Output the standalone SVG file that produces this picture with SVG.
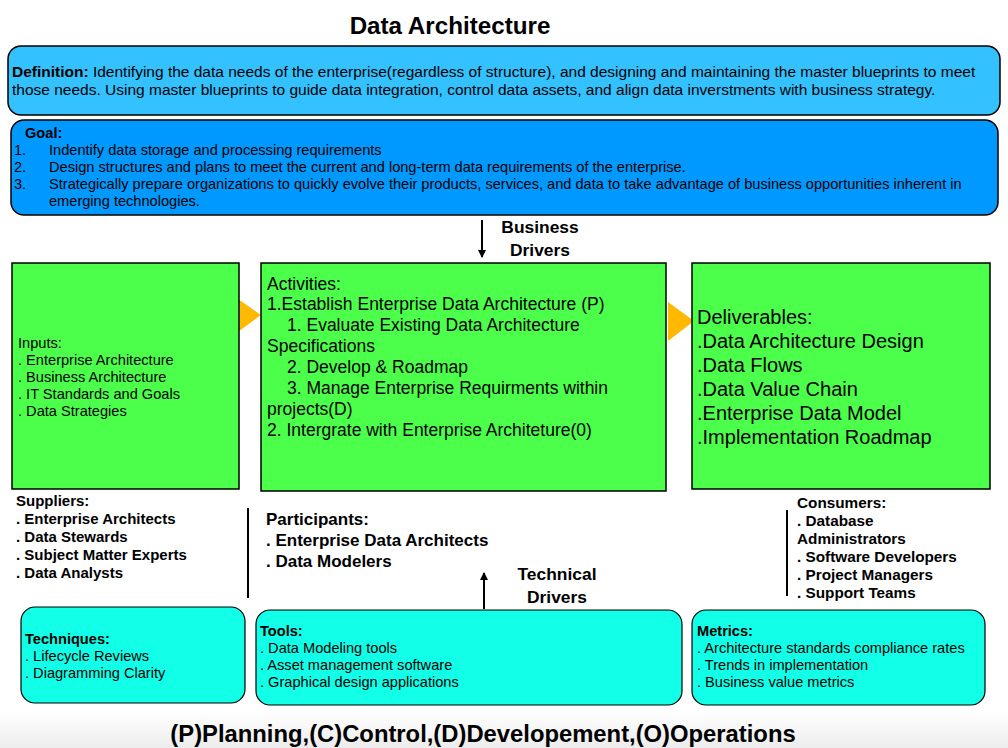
<svg xmlns="http://www.w3.org/2000/svg" width="1008" height="748" viewBox="0 0 1008 748">
  <style>
    text { font-family: "Liberation Sans", Arial, Helvetica, sans-serif; fill: #000; }
    .b { font-weight: bold; }
    .def { fill: #33c1ff; stroke: #000; stroke-width: 1.5; }
    .goal { fill: #0099ff; stroke: #000; stroke-width: 1.5; }
    .green { fill: #4bff4b; stroke: #000; stroke-width: 1.5; }
    .cyan { fill: #12ffe8; stroke: #000; stroke-width: 1.2; }
    .flow { fill: #ffb900; }
    .conn { stroke: #000; stroke-width: 2; fill: none; }
    .small { font-size: 14.6px; }
    .side { font-size: 15px; }
    .act { font-size: 17.5px; }
    .deliv { font-size: 20px; }
    .drv { font-size: 17.4px; }
  </style>
  <defs>
    <marker id="ah" markerWidth="8" markerHeight="8" refX="7" refY="4" orient="auto" markerUnits="userSpaceOnUse">
      <path d="M0,0 L8,4 L0,8 Z" fill="#000"/>
    </marker>
    <linearGradient id="floor" x1="0" y1="0" x2="0" y2="1">
      <stop offset="0" stop-color="#ffffff"/>
      <stop offset="1" stop-color="#ececec"/>
    </linearGradient>
  </defs>

  <rect x="0" y="0" width="1008" height="748" fill="#fff"/>
  <rect x="0" y="712" width="1008" height="36" fill="url(#floor)"/>

  <text class="b" x="450" y="34" font-size="24.2" text-anchor="middle">Data Architecture</text>

  <g id="definition">
    <rect class="def" x="8" y="46" width="992" height="69" rx="13"/>
    <text x="12" y="77" font-size="15.5"><tspan class="b">Definition:</tspan> Identifying the data needs of the enterprise(regardless of structure), and designing and maintaining the master blueprints to meet</text>
    <text x="12" y="95" font-size="15.5">those needs. Using master blueprints to guide data integration, control data assets, and align data inverstments with business strategy.</text>
  </g>

  <g id="goal">
    <rect class="goal" x="11" y="120" width="987" height="95" rx="13"/>
    <text class="small b" x="25" y="138">Goal:</text>
    <text class="small" x="14" y="155">1.</text>
    <text class="small" x="49" y="155">Indentify data storage and processing requirements</text>
    <text class="small" x="14" y="172">2.</text>
    <text class="small" x="49" y="172">Design structures and plans to meet the current and long-term data requirements of the enterprise.</text>
    <text class="small" x="14" y="189">3.</text>
    <text class="small" x="49" y="189">Strategically prepare organizations to quickly evolve their products, services, and data to take advantage of business opportunities inherent in</text>
    <text class="small" x="49" y="206">emerging technologies.</text>
  </g>

  <g id="connectors">
    <line class="conn" x1="482" y1="220" x2="482" y2="257" marker-end="url(#ah)"/>
    <line class="conn" x1="484" y1="609" x2="484" y2="573" marker-end="url(#ah)"/>
    <line class="conn" x1="248" y1="508" x2="248" y2="598"/>
    <line class="conn" x1="787" y1="510" x2="787" y2="596"/>
    <polygon class="flow" points="235,297 261,315 235,334"/>
    <polygon class="flow" points="668,302 694,321 668,341"/>
  </g>

  <g id="business-drivers">
    <text class="drv b" x="540" y="233" text-anchor="middle">Business</text>
    <text class="drv b" x="540" y="256" text-anchor="middle">Drivers</text>
  </g>

  <g id="inputs">
    <rect class="green" x="12" y="263" width="227" height="226"/>
    <text class="small" x="18" y="348">Inputs:</text>
    <text class="small" x="18" y="365">. Enterprise Architecture</text>
    <text class="small" x="18" y="382">. Business Architecture</text>
    <text class="small" x="18" y="399">. IT Standards and Goals</text>
    <text class="small" x="18" y="416">. Data Strategies</text>
  </g>

  <g id="activities">
    <rect class="green" x="261" y="263" width="405" height="228"/>
    <text class="act" x="267" y="290">Activities:</text>
    <text class="act" x="267" y="310">1.Establish Enterprise Data Architecture (P)</text>
    <text class="act" x="287" y="331">1. Evaluate Existing Data Architecture</text>
    <text class="act" x="267" y="352">Specifications</text>
    <text class="act" x="287" y="373">2. Develop &amp; Roadmap</text>
    <text class="act" x="287" y="394">3. Manage Enterprise Requirments within</text>
    <text class="act" x="267" y="415">projects(D)</text>
    <text class="act" x="267" y="436">2. Intergrate with Enterprise Architeture(0)</text>
  </g>

  <g id="deliverables">
    <rect class="green" x="692" y="263" width="298" height="226"/>
    <text class="deliv" x="697" y="324">Deliverables:</text>
    <text class="deliv" x="697" y="348">.Data Architecture Design</text>
    <text class="deliv" x="697" y="372">.Data Flows</text>
    <text class="deliv" x="697" y="396">.Data Value Chain</text>
    <text class="deliv" x="697" y="420">.Enterprise Data Model</text>
    <text class="deliv" x="697" y="444">.Implementation Roadmap</text>
  </g>

  <g id="suppliers">
    <text class="side b" x="16" y="506">Suppliers:</text>
    <text class="side b" x="16" y="524">. Enterprise Architects</text>
    <text class="side b" x="16" y="542">. Data Stewards</text>
    <text class="side b" x="16" y="560">. Subject Matter Experts</text>
    <text class="side b" x="16" y="578">. Data Analysts</text>
  </g>

  <g id="participants">
    <text class="b" x="266" y="525" font-size="17">Participants:</text>
    <text class="b" x="266" y="546" font-size="17">. Enterprise Data Architects</text>
    <text class="b" x="266" y="567" font-size="17">. Data Modelers</text>
  </g>

  <g id="technical-drivers">
    <text class="drv b" x="557" y="580" text-anchor="middle">Technical</text>
    <text class="drv b" x="557" y="603" text-anchor="middle">Drivers</text>
  </g>

  <g id="consumers">
    <text class="b" x="797" y="508" font-size="15.3">Consumers:</text>
    <text class="b" x="797" y="526" font-size="15.3">. Database</text>
    <text class="b" x="797" y="544" font-size="15.3">Administrators</text>
    <text class="b" x="797" y="562" font-size="15.3">. Software Developers</text>
    <text class="b" x="797" y="580" font-size="15.3">. Project Managers</text>
    <text class="b" x="797" y="598" font-size="15.3">. Support Teams</text>
  </g>

  <g id="techniques">
    <rect class="cyan" x="21" y="607" width="224" height="96" rx="14"/>
    <text class="small b" x="25" y="644">Techniques:</text>
    <text class="small" x="25" y="661">. Lifecycle Reviews</text>
    <text class="small" x="25" y="678">. Diagramming Clarity</text>
  </g>

  <g id="tools">
    <rect class="cyan" x="256" y="610" width="426" height="95" rx="14"/>
    <text class="small b" x="260" y="636">Tools:</text>
    <text class="small" x="260" y="653">. Data Modeling tools</text>
    <text class="small" x="260" y="670">. Asset management software</text>
    <text class="small" x="260" y="687">. Graphical design applications</text>
  </g>

  <g id="metrics">
    <rect class="cyan" x="692" y="610" width="293" height="95" rx="14"/>
    <text class="small b" x="697" y="636">Metrics:</text>
    <text class="small" x="697" y="653">. Architecture standards compliance rates</text>
    <text class="small" x="697" y="670">. Trends in implementation</text>
    <text class="small" x="697" y="687">. Business value metrics</text>
  </g>

  <text class="b" x="483" y="742" font-size="23.8" text-anchor="middle">(P)Planning,(C)Control,(D)Developement,(O)Operations</text>
</svg>
